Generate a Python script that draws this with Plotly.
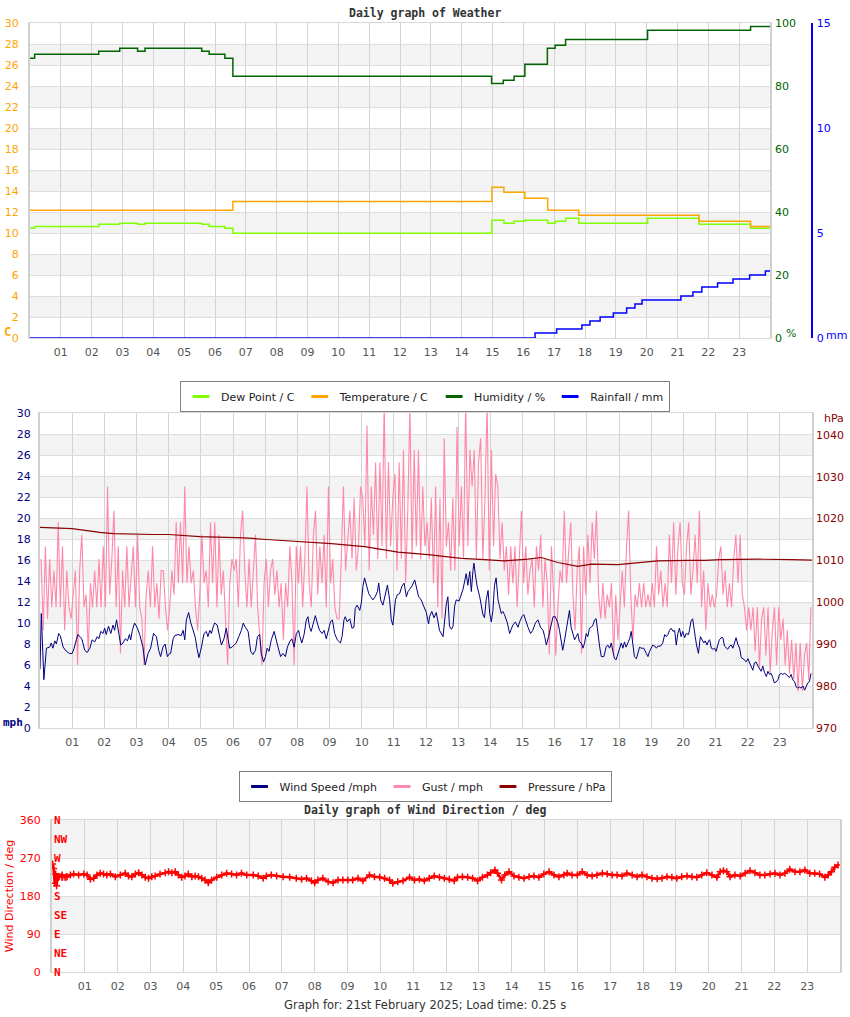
import plotly.graph_objects as go

W, H = 850, 1017

# ---------------- data ----------------
HOUR_TICKS = [1, 2, 3, 4, 5, 6, 7, 8, 9, 10, 11, 12, 13, 14, 15, 16, 17, 18, 19, 20, 21, 22, 23]
HOUR_LABELS = ["01", "02", "03", "04", "05", "06", "07", "08", "09", "10", "11", "12",
               "13", "14", "15", "16", "17", "18", "19", "20", "21", "22", "23"]

# Panel 1 (step series: time in hours, value)
HUM_T = [0.0, 0.15, 2.23, 2.91, 3.49, 3.73, 5.57, 5.81, 6.32, 6.58, 14.97, 15.35, 15.70,
         16.05, 16.78, 17.03, 17.37, 20.03, 23.37, 24.0]
HUM_V = [88.8, 90.1, 91.0, 92.0, 91.0, 92.0, 91.0, 90.1, 88.8, 83.1, 80.8, 81.8, 83.1,
         86.9, 92.0, 92.9, 94.8, 97.7, 98.9, 98.9]

TEMP_T = [0.0, 6.58, 14.98, 15.37, 16.05, 16.79, 17.8, 21.7, 23.37, 24.0]
TEMP_V = [12.16, 13.0, 14.35, 13.87, 13.3, 12.16, 11.68, 11.11, 10.63, 10.63]

DEW_T = [0.0, 0.15, 2.23, 2.91, 3.49, 3.73, 5.57, 5.81, 6.32, 6.58, 14.98, 15.37, 15.70,
         16.05, 16.79, 17.03, 17.37, 17.8, 20.03, 21.7, 23.37, 24.0]
DEW_V = [10.45, 10.63, 10.83, 10.92, 10.83, 10.92, 10.83, 10.63, 10.45, 9.97, 11.21, 10.92,
         11.11, 11.21, 10.92, 11.11, 11.4, 10.92, 11.4, 10.83, 10.45, 10.45]

RAIN_T = [0.0, 16.38, 17.08, 17.9, 18.16, 18.49, 18.92, 19.35, 19.62, 19.85, 21.11, 21.5,
          21.79, 22.3, 22.8, 23.34, 23.85, 24.0]
RAIN_V = [0.0, 0.24, 0.43, 0.62, 0.81, 1.0, 1.19, 1.43, 1.62, 1.81, 2.0, 2.19, 2.43, 2.62,
          2.81, 3.0, 3.19, 3.19]

# Panel 2
WIND_SPEED = [
    (0.00, 5.6), (0.04, 10.9), (0.12, 4.6), (0.20, 7.6), (0.30, 7.7), (0.35, 8.1), (0.40, 7.6),
    (0.46, 8.3), (0.51, 8.0), (0.58, 9.0), (0.63, 8.8), (0.72, 7.7), (0.82, 7.3), (0.92, 7.1),
    (1.00, 7.1), (1.06, 7.6), (1.13, 8.4), (1.18, 8.9), (1.27, 8.6), (1.31, 8.4), (1.39, 7.4),
    (1.47, 7.2), (1.55, 7.6), (1.62, 8.4), (1.70, 8.2), (1.78, 8.7), (1.83, 8.5), (1.89, 9.2),
    (1.96, 9.0), (2.01, 9.5), (2.06, 8.9), (2.13, 9.7), (2.20, 9.0), (2.27, 9.8), (2.32, 9.3),
    (2.38, 10.3), (2.45, 9.0), (2.51, 7.9), (2.58, 8.1), (2.65, 8.5), (2.72, 8.3), (2.78, 8.9),
    (2.82, 8.4), (2.87, 9.3), (2.94, 10.0), (3.03, 9.5), (3.10, 8.9), (3.15, 8.4), (3.20, 7.7),
    (3.27, 6.0), (3.36, 7.1), (3.44, 7.6), (3.53, 9.0), (3.62, 8.7), (3.69, 7.4), (3.75, 6.8),
    (3.82, 7.7), (3.89, 8.0), (3.96, 6.8), (4.03, 7.1),
    (4.06, 7.1), (4.14, 8.5), (4.19, 8.8), (4.29, 8.9), (4.39, 8.8), (4.45, 9.3), (4.50, 8.4),
    (4.55, 10.3), (4.62, 11.0), (4.68, 10.1), (4.76, 9.3), (4.83, 8.6), (4.88, 7.6), (4.94, 6.7),
    (5.02, 7.7), (5.10, 9.0), (5.17, 9.2), (5.22, 8.7), (5.28, 9.3), (5.33, 9.0), (5.38, 9.6),
    (5.43, 10.0), (5.51, 9.8), (5.59, 8.4), (5.64, 7.9), (5.72, 8.5), (5.79, 9.5), (5.85, 8.4),
    (5.90, 7.6), (5.97, 7.7), (6.05, 7.9), (6.10, 8.1), (6.18, 8.7), (6.26, 9.3), (6.32, 10.0),
    (6.38, 9.6), (6.47, 9.2), (6.55, 7.3), (6.62, 7.0), (6.70, 7.4), (6.76, 8.7), (6.83, 8.9),
    (6.88, 7.1), (6.95, 6.3), (7.01, 6.8), (7.06, 7.6), (7.12, 7.3), (7.19, 8.4), (7.28, 9.2),
    (7.35, 8.2), (7.40, 7.7), (7.48, 6.8), (7.55, 7.1), (7.63, 6.8), (7.69, 7.7), (7.76, 8.2),
    (7.83, 8.5), (7.90, 7.7), (7.97, 9.0), (8.04, 9.3),
    (8.07, 8.8), (8.14, 8.1), (8.21, 8.9), (8.28, 10.3), (8.33, 10.6), (8.38, 9.6), (8.43, 9.2),
    (8.49, 9.9), (8.56, 10.7), (8.62, 10.0), (8.69, 9.3), (8.77, 9.0), (8.83, 9.3), (8.90, 8.5),
    (8.95, 9.2), (9.03, 10.1), (9.09, 10.3), (9.16, 9.0), (9.24, 8.4), (9.34, 8.1), (9.39, 8.7),
    (9.45, 10.3), (9.49, 10.6), (9.55, 10.1), (9.63, 10.4), (9.70, 9.5), (9.76, 9.6), (9.80, 11.4),
    (9.86, 11.7), (9.94, 11.2), (9.99, 11.9), (10.04, 13.5), (10.09, 14.3), (10.15, 13.5),
    (10.22, 12.8), (10.28, 12.5), (10.35, 12.2), (10.42, 12.5), (10.49, 13.0), (10.53, 13.8),
    (10.59, 12.2), (10.66, 11.7), (10.74, 12.8), (10.80, 13.6), (10.87, 12.2), (10.92, 10.3),
    (10.97, 9.8), (11.05, 12.2), (11.11, 12.7), (11.18, 12.8), (11.25, 13.5), (11.32, 13.8),
    (11.39, 12.5), (11.44, 13.0), (11.49, 13.2), (11.56, 13.5), (11.65, 14.1), (11.70, 13.5),
    (11.77, 12.5), (11.85, 12.2), (11.94, 11.6), (12.01, 11.0), (12.08, 9.9),
    (12.11, 10.6), (12.18, 11.1), (12.25, 10.5), (12.32, 11.0), (12.37, 10.0), (12.42, 9.3),
    (12.53, 8.7), (12.58, 10.3), (12.63, 11.8), (12.68, 12.5), (12.73, 9.7), (12.79, 9.4),
    (12.84, 9.7), (12.89, 11.6), (12.94, 12.2), (13.03, 12.1), (13.10, 12.7), (13.15, 13.2),
    (13.25, 14.7), (13.30, 13.6), (13.36, 14.9), (13.41, 13.0), (13.46, 15.0), (13.49, 15.7),
    (13.53, 14.7), (13.59, 13.5), (13.67, 12.5), (13.72, 11.7), (13.77, 10.8), (13.82, 10.5),
    (13.87, 12.2), (13.93, 13.1), (13.98, 10.9), (14.03, 10.1), (14.08, 11.2), (14.13, 13.6),
    (14.18, 14.3), (14.24, 12.2), (14.29, 11.4), (14.34, 10.9), (14.39, 11.1), (14.44, 10.8),
    (14.53, 10.0), (14.60, 9.0), (14.65, 9.4), (14.70, 9.8), (14.78, 10.1), (14.86, 9.6),
    (14.91, 10.1), (14.98, 10.6), (15.04, 10.8), (15.12, 10.0), (15.17, 9.6), (15.25, 9.0),
    (15.32, 9.3), (15.40, 10.0), (15.48, 10.3), (15.56, 9.6), (15.64, 9.3), (15.69, 8.7),
    (15.74, 7.9), (15.81, 8.7), (15.87, 9.6), (15.95, 10.6), (16.02, 10.6), (16.10, 10.0),
    (16.15, 9.3), (16.20, 8.4), (16.25, 7.4), (16.31, 8.4), (16.36, 9.3), (16.41, 10.4),
    (16.46, 11.2), (16.51, 9.6), (16.57, 9.0), (16.62, 8.4), (16.67, 8.7), (16.72, 9.0),
    (16.77, 8.2), (16.83, 8.1), (16.88, 7.6), (16.93, 8.1), (16.98, 9.0), (17.03, 8.7),
    (17.08, 9.5), (17.14, 9.6), (17.19, 9.8), (17.24, 10.3), (17.29, 10.4), (17.34, 9.0),
    (17.40, 7.7), (17.45, 6.8), (17.53, 6.8), (17.60, 7.7), (17.65, 7.9), (17.71, 7.6),
    (17.76, 8.1), (17.81, 7.3), (17.86, 6.6), (17.91, 6.5), (17.97, 7.1), (18.02, 7.7),
    (18.07, 8.1), (18.12, 7.6), (18.17, 8.2), (18.22, 7.7), (18.28, 8.1), (18.33, 8.5),
    (18.38, 9.2), (18.43, 8.1), (18.48, 6.8), (18.54, 6.6), (18.59, 7.1), (18.64, 7.7),
    (18.69, 7.6), (18.77, 7.6), (18.85, 7.1), (18.90, 6.8), (18.95, 7.3), (19.00, 7.6),
    (19.05, 7.9), (19.11, 7.8), (19.16, 7.6), (19.21, 7.8), (19.29, 7.8), (19.36, 8.1),
    (19.42, 8.9), (19.47, 8.7), (19.52, 8.9), (19.57, 9.3), (19.62, 9.5), (19.68, 9.2),
    (19.73, 9.3), (19.78, 7.9), (19.83, 9.0), (19.88, 9.5), (19.93, 8.7), (19.98, 9.2),
    (20.04, 8.6), (20.09, 9.0), (20.16, 8.9),
    (20.19, 9.3), (20.24, 10.2), (20.29, 10.4), (20.33, 9.3), (20.37, 8.7), (20.41, 7.9),
    (20.47, 7.1), (20.53, 8.7), (20.58, 8.4), (20.64, 8.1), (20.68, 8.3), (20.74, 7.9),
    (20.78, 8.3), (20.82, 8.4), (20.87, 7.6), (20.92, 7.5), (20.97, 7.6), (21.02, 7.3),
    (21.07, 7.9), (21.12, 8.4), (21.18, 8.6), (21.23, 8.6), (21.28, 7.8), (21.33, 7.6),
    (21.38, 7.5), (21.44, 7.8), (21.49, 7.9), (21.54, 7.6), (21.59, 8.2), (21.64, 8.6),
    (21.69, 8.0), (21.75, 7.6), (21.80, 6.7), (21.85, 6.6), (21.90, 6.5), (21.95, 6.3),
    (22.01, 6.6), (22.06, 6.2), (22.11, 5.9), (22.16, 5.5), (22.21, 6.2), (22.26, 6.3),
    (22.32, 5.9), (22.37, 5.7), (22.42, 5.4), (22.47, 5.9), (22.52, 5.3), (22.58, 4.9),
    (22.63, 5.4), (22.68, 5.1), (22.73, 5.2), (22.78, 4.8), (22.83, 4.3), (22.89, 4.4),
    (22.94, 4.6), (22.99, 5.1), (23.04, 5.2), (23.09, 5.1), (23.15, 5.2), (23.20, 5.1),
    (23.25, 4.9), (23.30, 4.8), (23.35, 5.1), (23.40, 4.6), (23.46, 4.4), (23.51, 3.9),
    (23.56, 3.8), (23.61, 3.9), (23.66, 3.8), (23.72, 4.0), (23.77, 3.6), (23.82, 3.9),
    (23.87, 4.3), (23.92, 4.4), (23.97, 5.2),
]

# Gust readings, 15 samples per hour (mph)
GUST_BY_HOUR = [
    [16.1, 9.3, 17.3, 10.4, 16.1, 11.5, 15.0, 11.5, 19.6, 11.5, 17.3, 9.3, 15.0, 11.5, 10.4],
    [12.7, 15.0, 6.0, 15.0, 18.4, 11.5, 12.7, 7.3, 13.8, 11.5, 15.0, 11.5, 16.1, 11.5, 17.3],
    [11.5, 23.0, 12.7, 16.1, 20.7, 11.5, 17.3, 7.1, 15.0, 11.5, 17.3, 11.5, 15.0, 17.3, 11.5],
    [18.4, 11.5, 10.4, 6.0, 12.7, 15.0, 11.5, 17.3, 11.5, 13.8, 10.4, 15.0, 15.0, 11.5, 9.3],
    [11.5, 15.0, 12.7, 19.6, 13.8, 19.6, 13.8, 23.0, 13.8, 17.3, 13.8, 15.0, 11.5, 9.3, 12.7],
    [18.4, 13.8, 15.0, 11.5, 19.6, 13.8, 19.6, 11.5, 18.4, 12.7, 15.0, 10.4, 6.0, 13.8, 16.1],
    [15.0, 16.1, 11.5, 18.4, 20.7, 15.0, 11.5, 16.1, 11.5, 15.0, 18.4, 11.5, 8.4, 6.0, 13.8],
    [16.1, 11.5, 15.0, 16.1, 12.7, 15.0, 11.5, 13.8, 8.4, 13.8, 11.5, 17.3, 13.8, 6.0, 17.3],
    [13.8, 17.3, 11.5, 16.1, 23.0, 13.8, 11.5, 18.4, 20.7, 12.7, 17.3, 13.8, 18.4, 11.5, 23.0],
    [13.8, 16.1, 11.5, 10.4, 10.4, 16.1, 23.0, 15.0, 18.4, 20.7, 16.1, 21.9, 15.0, 17.3, 23.0],
    [21.9, 17.3, 28.8, 15.0, 23.0, 18.4, 25.3, 16.1, 25.3, 17.3, 31.0, 16.1, 25.3, 17.3, 21.9],
    [24.2, 15.0, 25.3, 16.1, 26.5, 13.8, 20.7, 30.6, 16.1, 26.5, 17.3, 26.5, 16.1, 23.0, 17.3],
    [19.6, 16.1, 21.9, 13.8, 23.0, 11.5, 21.9, 10.4, 27.6, 17.3, 19.6, 15.0, 21.9, 15.0, 28.7],
    [17.3, 23.0, 16.1, 31.0, 17.3, 26.5, 23.0, 26.5, 16.1, 25.3, 27.6, 16.1, 21.9, 31.0, 15.0],
    [26.5, 17.3, 24.2, 23.0, 16.1, 19.6, 15.0, 17.3, 12.7, 17.3, 13.8, 17.3, 11.5, 16.1, 20.7],
    [13.8, 17.3, 12.7, 15.0, 16.1, 11.5, 17.3, 15.0, 18.4, 11.5, 16.1, 13.8, 7.0, 17.3, 12.7],
    [6.9, 11.5, 15.0, 13.8, 20.7, 13.8, 17.3, 19.6, 12.7, 9.3, 15.0, 17.3, 7.1, 17.3, 12.7],
    [18.4, 13.8, 19.6, 16.1, 20.7, 12.7, 10.4, 13.8, 10.4, 12.7, 11.5, 13.8, 6.9, 12.7, 8.4],
    [11.5, 15.0, 11.5, 17.3, 20.7, 12.7, 8.4, 12.7, 11.5, 13.8, 11.5, 13.8, 11.5, 12.7, 11.5],
    [13.8, 11.5, 17.3, 12.7, 15.0, 11.5, 13.8, 11.5, 18.4, 13.8, 19.6, 12.7, 17.3, 19.6, 13.8],
    [12.7, 17.3, 19.6, 12.7, 15.0, 18.4, 13.8, 20.7, 11.5, 15.0, 9.3, 13.8, 11.5, 12.7, 11.5],
    [12.7, 16.1, 17.3, 12.7, 15.0, 11.5, 13.8, 11.5, 16.1, 18.4, 13.8, 18.4, 12.7, 11.5, 9.3],
    [11.5, 9.3, 11.5, 7.3, 11.5, 5.8, 10.4, 11.5, 6.9, 11.5, 5.2, 9.3, 11.5, 6.0, 11.5],
    [8.4, 10.4, 6.0, 9.3, 5.2, 8.4, 4.6, 8.1, 3.5, 8.1, 3.5, 6.9, 8.1, 4.6, 11.5],
]

PRESSURE = [
    (0.0, 1017.9), (1.0, 1017.6), (1.86, 1016.7), (2.28, 1016.4), (3.52, 1016.2), (4.0, 1016.2),
    (4.97, 1015.7), (6.0, 1015.4), (6.36, 1015.4), (7.04, 1015.0), (8.02, 1014.6), (9.06, 1014.0),
    (10.09, 1013.3), (11.13, 1012.0), (12.06, 1011.4), (13.1, 1010.5), (13.82, 1010.2),
    (14.44, 1009.9), (15.17, 1010.3), (15.58, 1010.7), (16.1, 1009.5), (16.72, 1008.6),
    (17.14, 1009.1), (17.97, 1009.0), (18.79, 1009.6), (19.2, 1009.9), (20.16, 1010.0),
    (20.66, 1010.0), (21.18, 1010.2), (22.33, 1010.3), (23.37, 1010.2), (24.0, 1010.1),
]

# Panel 3 wind direction (deg)
WIND_DIR = [
    (0.02, 256), (0.05, 245), (0.08, 210), (0.11, 232), (0.14, 204), (0.17, 226),
    (0.21, 225.8), (0.31, 229.7), (0.46, 225.8), (0.56, 229.7), (0.66, 232.1), (0.81, 229.7),
    (0.97, 232.1), (1.07, 229.7), (1.17, 219.5), (1.27, 221.8), (1.37, 229.7), (1.47, 233.7),
    (1.57, 232.1), (1.67, 229.7), (1.78, 232.1), (1.93, 225.8), (2.08, 229.7), (2.23, 233.7),
    (2.33, 227.4), (2.43, 225.8), (2.54, 232.1), (2.64, 235.3), (2.74, 229.7), (2.84, 224.2),
    (2.94, 221.8), (3.04, 225.8), (3.14, 227.4), (3.29, 232.1), (3.45, 235.3), (3.55, 237.6),
    (3.65, 235.3), (3.75, 237.6), (3.85, 229.7), (3.95, 224.2), (4.05, 227.4), (4.15, 232.1),
    (4.26, 225.8), (4.36, 227.4), (4.46, 225.8), (4.56, 221.8), (4.66, 217.9), (4.76, 211.6),
    (4.86, 217.9), (5.02, 224.2), (5.17, 229.7), (5.32, 233.7), (5.47, 232.1), (5.62, 229.7),
    (5.77, 233.7), (5.93, 229.7), (6.13, 229.7), (6.28, 227.4), (6.43, 221.8), (6.53, 227.4),
    (6.68, 229.7), (6.84, 227.4), (7.04, 225.8), (7.24, 224.2), (7.44, 221.8), (7.6, 219.5),
    (7.75, 221.8), (7.9, 216.3), (8.0, 211.6), (8.1, 217.9), (8.25, 221.8), (8.41, 213.9),
    (8.56, 211.6), (8.71, 217.9), (8.86, 217.9), (9.01, 217.9), (9.16, 217.9), (9.32, 221.8),
    (9.47, 216.3), (9.67, 229.7), (9.82, 225.8), (9.98, 224.2), (10.13, 221.8), (10.28, 217.9),
    (10.38, 210.0), (10.53, 213.9), (10.69, 216.3), (10.89, 224.2), (11.04, 217.9),
    (11.19, 219.5), (11.34, 216.3), (11.49, 221.8), (11.64, 227.4), (11.8, 224.2),
    (11.95, 221.8), (12.1, 219.5), (12.25, 216.3), (12.35, 224.2), (12.5, 225.8),
    (12.66, 224.2), (12.81, 221.8), (12.96, 216.3), (13.11, 224.2), (13.26, 229.7),
    (13.36, 235.3), (13.49, 241.6), (13.57, 233.7), (13.69, 217.9), (13.79, 229.7),
    (13.92, 237.6), (14.07, 227.4), (14.22, 224.2), (14.38, 221.8), (14.53, 225.8),
    (14.68, 227.4), (14.83, 224.2), (14.98, 232.1), (15.14, 237.6), (15.29, 229.7),
    (15.44, 225.8), (15.59, 229.7), (15.69, 233.7), (15.84, 229.7), (16.0, 229.7),
    (16.15, 237.6), (16.3, 229.7), (16.45, 227.4), (16.6, 229.7), (16.76, 233.7),
    (16.91, 232.1), (17.06, 229.7), (17.21, 229.7), (17.36, 227.4), (17.51, 233.7),
    (17.67, 229.7), (17.82, 225.8), (17.97, 229.7), (18.12, 225.8), (18.27, 221.8),
    (18.43, 221.0), (18.58, 221.8), (18.73, 225.8), (18.88, 224.2), (19.03, 221.8),
    (19.18, 225.8), (19.34, 227.4), (19.49, 225.8), (19.64, 224.2), (19.79, 229.7),
    (19.94, 235.3), (20.1, 229.7), (20.25, 224.2), (20.35, 237.6), (20.45, 240.0),
    (20.55, 237.6), (20.65, 225.8), (20.8, 229.7), (20.96, 227.4), (21.11, 233.7),
    (21.26, 240.0), (21.41, 235.3), (21.56, 229.7), (21.71, 229.7), (21.87, 232.1),
    (22.02, 233.7), (22.17, 229.7), (22.32, 233.7), (22.47, 243.2), (22.63, 237.6),
    (22.78, 237.6), (22.93, 241.6), (23.08, 233.7), (23.23, 233.7), (23.38, 232.1),
    (23.54, 224.2), (23.64, 229.7), (23.74, 237.6), (23.84, 247.9), (23.94, 253.4),
]

COMPASS_DEG = [0, 45, 90, 135, 180, 225, 270, 315, 360]
COMPASS_LABELS = ["N", "NE", "E", "SE", "S", "SW", "W", "NW", "N"]

# ---------------- styling ----------------
C_DEW = "#7FFF00"
C_TEMP = "#FFA500"
C_HUM = "#006400"
C_RAIN = "#0000FF"
C_WIND = "#000080"
C_GUST = "#FF88AA"
C_PRES = "#8B0000"
C_DIR = "#FF0000"
BAND = "#F3F3F3"
GRID_V = "#D3D3D3"
GRID_H = "#DEDEDE"
FONT = "DejaVu Sans"
MONO = "DejaVu Sans Mono"


def pxx(x):
    return x / W


def pxy(y):
    return 1 - y / H


fig = go.Figure()

# ----- panel 1 -----
fig.add_trace(go.Scatter(x=DEW_T, y=DEW_V, mode="lines", line=dict(color=C_DEW, width=1.5, shape="hv"),
                         xaxis="x", yaxis="y", showlegend=False))
fig.add_trace(go.Scatter(x=TEMP_T, y=TEMP_V, mode="lines", line=dict(color=C_TEMP, width=1.5, shape="hv"),
                         xaxis="x", yaxis="y", showlegend=False))
fig.add_trace(go.Scatter(x=HUM_T, y=HUM_V, mode="lines", line=dict(color=C_HUM, width=1.5, shape="hv"),
                         xaxis="x", yaxis="y2", showlegend=False))
fig.add_trace(go.Scatter(x=RAIN_T, y=RAIN_V, mode="lines", line=dict(color=C_RAIN, width=1.5, shape="hv"),
                         xaxis="x", yaxis="y3", showlegend=False))

# ----- panel 2 -----
gust_t, gust_v = [], []
for hr, vals in enumerate(GUST_BY_HOUR):
    n = len(vals)
    for k, v in enumerate(vals):
        gust_t.append(hr + (k + 0.5) / n)
        gust_v.append(v)
fig.add_trace(go.Scatter(x=gust_t, y=gust_v, mode="lines", line=dict(color=C_GUST, width=1.1),
                         xaxis="x2", yaxis="y4", showlegend=False))
fig.add_trace(go.Scatter(x=[p[0] for p in WIND_SPEED], y=[p[1] for p in WIND_SPEED], mode="lines",
                         line=dict(color=C_WIND, width=1), xaxis="x2", yaxis="y4", showlegend=False))
fig.add_trace(go.Scatter(x=[p[0] for p in PRESSURE], y=[p[1] for p in PRESSURE], mode="lines",
                         line=dict(color=C_PRES, width=1.2), xaxis="x2", yaxis="y5", showlegend=False))

# ----- panel 3 -----
fig.add_trace(go.Scatter(x=[p[0] for p in WIND_DIR], y=[p[1] for p in WIND_DIR], mode="lines+markers",
                         line=dict(color=C_DIR, width=2.5),
                         marker=dict(symbol="cross-thin", size=5, line=dict(color=C_DIR, width=1.5)),
                         xaxis="x3", yaxis="y6", showlegend=False))

# ----- legend entries -----
def legend_entry(name, color, legend, xa, ya):
    fig.add_trace(go.Scatter(x=[None], y=[None], mode="markers", name=name,
                             marker=dict(symbol="line-ew", size=12, line=dict(color=color, width=3)),
                             xaxis=xa, yaxis=ya, legend=legend, showlegend=True))


legend_entry("Dew Point / C", C_DEW, "legend", "x", "y")
legend_entry("Temperature / C", C_TEMP, "legend", "x", "y")
legend_entry("Humidity / %", C_HUM, "legend", "x", "y")
legend_entry("Rainfall / mm", C_RAIN, "legend", "x", "y")
legend_entry("Wind Speed /mph", C_WIND, "legend2", "x2", "y4")
legend_entry("Gust / mph", C_GUST, "legend2", "x2", "y4")
legend_entry("Pressure / hPa", C_PRES, "legend2", "x2", "y4")

# ----- axes -----
tickfont = dict(family=FONT, size=11, color="#555555")


def xaxis_cfg(dom, anchor):
    return dict(domain=dom, anchor=anchor, range=[0, 24], tickvals=HOUR_TICKS, ticktext=HOUR_LABELS,
                showgrid=True, gridcolor=GRID_V, gridwidth=1, zeroline=False, showline=True,
                linecolor="#D8D8D8", linewidth=1, mirror=True, ticks="", tickfont=tickfont,
                ticklabelstandoff=4, fixedrange=True, automargin=False)


P1 = dict(x=[pxx(30), pxx(770)], y=[pxy(338), pxy(23)])
P2 = dict(x=[pxx(40), pxx(812)], y=[pxy(728), pxy(413)])
P3 = dict(x=[pxx(52), pxx(840)], y=[pxy(972), pxy(820)])

fig.update_layout(
    xaxis=xaxis_cfg(P1["x"], "y"),
    yaxis=dict(domain=P1["y"], anchor="x", range=[0, 30], dtick=2, showgrid=True, gridcolor=GRID_H,
               zeroline=False, showline=True, linecolor="#D0D0D0", linewidth=2, mirror=True, ticks="",
               tickfont=dict(family=FONT, size=11, color=C_TEMP), ticklabelstandoff=7, automargin=False),
    yaxis2=dict(overlaying="y", anchor="x", side="right", range=[0, 100], tickvals=[0, 20, 40, 60, 80, 100],
                showgrid=False, zeroline=False, showline=False, ticks="", automargin=False,
                tickfont=dict(family=FONT, size=11, color=C_HUM), ticklabelstandoff=4),
    yaxis3=dict(overlaying="y", anchor="free", position=pxx(811), side="right", range=[0, 15],
                tickvals=[0, 5, 10, 15], showgrid=False, zeroline=False, showline=True, linecolor=C_RAIN,
                linewidth=1.5, ticks="", tickfont=dict(family=FONT, size=11, color=C_RAIN),
                ticklabelstandoff=2, automargin=False),
    xaxis2=xaxis_cfg(P2["x"], "y4"),
    yaxis4=dict(domain=P2["y"], anchor="x2", range=[0, 30], dtick=2, showgrid=True, gridcolor=GRID_H,
                zeroline=False, showline=True, linecolor="#D0D0D0", linewidth=2, mirror=True, ticks="",
                tickfont=dict(family=FONT, size=11, color=C_WIND), ticklabelstandoff=5, automargin=False),
    yaxis5=dict(overlaying="y4", anchor="x2", side="right", range=[970, 1045.2],
                tickvals=[970, 980, 990, 1000, 1010, 1020, 1030, 1040], showgrid=False, zeroline=False,
                showline=False, ticks="", tickfont=dict(family=FONT, size=11, color=C_PRES),
                ticklabelstandoff=3, automargin=False),
    xaxis3=xaxis_cfg(P3["x"], "y6"),
    yaxis6=dict(domain=P3["y"], anchor="x3", range=[0, 360], tickvals=[0, 90, 180, 270, 360],
                showgrid=True, gridcolor=GRID_H, zeroline=False, showline=True, linecolor="#D0D0D0",
                linewidth=2, mirror=True, ticks="", tickfont=dict(family=FONT, size=11, color=C_DIR),
                ticklabelstandoff=7, automargin=False,
                title=dict(text="Wind Direction / deg", font=dict(family=FONT, size=11, color=C_DIR), standoff=4)),
)

# ----- alternating background bands -----
shapes = []
for lo in range(2, 30, 4):
    for ya in ("y", "y4"):
        shapes.append(dict(type="rect", xref="x domain" if ya == "y" else "x2 domain", x0=0, x1=1,
                           yref=ya, y0=lo, y1=lo + 2, fillcolor=BAND, line=dict(width=0), layer="below"))
for lo in (90, 270):
    shapes.append(dict(type="rect", xref="x3 domain", x0=0, x1=1, yref="y6", y0=lo, y1=lo + 90,
                       fillcolor=BAND, line=dict(width=0), layer="below"))
fig.update_layout(shapes=shapes)

# ----- legends -----
leg_common = dict(orientation="h", xanchor="center", x=0.5, yanchor="top", bgcolor="#FFFFFF",
                  bordercolor="#808080", borderwidth=1, font=dict(family=FONT, size=11, color="#222222"),
                  itemwidth=30, itemclick=False, itemdoubleclick=False)
fig.update_layout(
    legend=dict(y=pxy(381), **leg_common),
    legend2=dict(y=pxy(771), **leg_common),
)

# ----- annotations -----
ann = []


def add_text(text, x, y, color, size=11, family=FONT, xanchor="center", yanchor="middle", bold=False):
    t = f"<b>{text}</b>" if bold else text
    ann.append(dict(text=t, x=pxx(x), y=pxy(y), xref="paper", yref="paper", showarrow=False,
                    xanchor=xanchor, yanchor=yanchor, font=dict(family=family, size=size, color=color)))


add_text("Daily graph of Weather", 425, 13, "#333333", size=11.5, family=MONO, bold=True)
add_text("Daily graph of Wind Direction / deg", 425, 810, "#333333", size=11.5, family=MONO, bold=True)
add_text("C", 2, 332, C_TEMP, size=12, family=MONO, xanchor="left", bold=True)
add_text("%", 784, 333, C_HUM, size=11, xanchor="left")
add_text("mm", 824, 335, C_RAIN, size=11, xanchor="left")
add_text("mph", 1, 722, C_WIND, size=11, family=MONO, xanchor="left", bold=True)
add_text("hPa", 822, 418, C_PRES, size=11, xanchor="left")
add_text("Graph for: 21st February 2025; Load time: 0.25 s", 425, 1005, "#333333", size=11.5)

for deg, lab in zip(COMPASS_DEG, COMPASS_LABELS):
    ann.append(dict(text=f"<b>{lab}</b>", x=pxx(52), y=deg, xref="paper", yref="y6", showarrow=False,
                    xanchor="left", yanchor="middle", font=dict(family=MONO, size=11, color=C_DIR)))

fig.update_layout(
    annotations=ann,
    width=W, height=H, autosize=False,
    margin=dict(l=0, r=0, t=0, b=0, pad=0, autoexpand=False),
    paper_bgcolor="#FFFFFF", plot_bgcolor="#FFFFFF",
    font=dict(family=FONT, size=11),
    hovermode=False,
)

fig.write_html("out.html", config={"displayModeBar": False, "staticPlot": True},
               post_script="document.body.style.margin='0';document.body.style.overflow='hidden';")
